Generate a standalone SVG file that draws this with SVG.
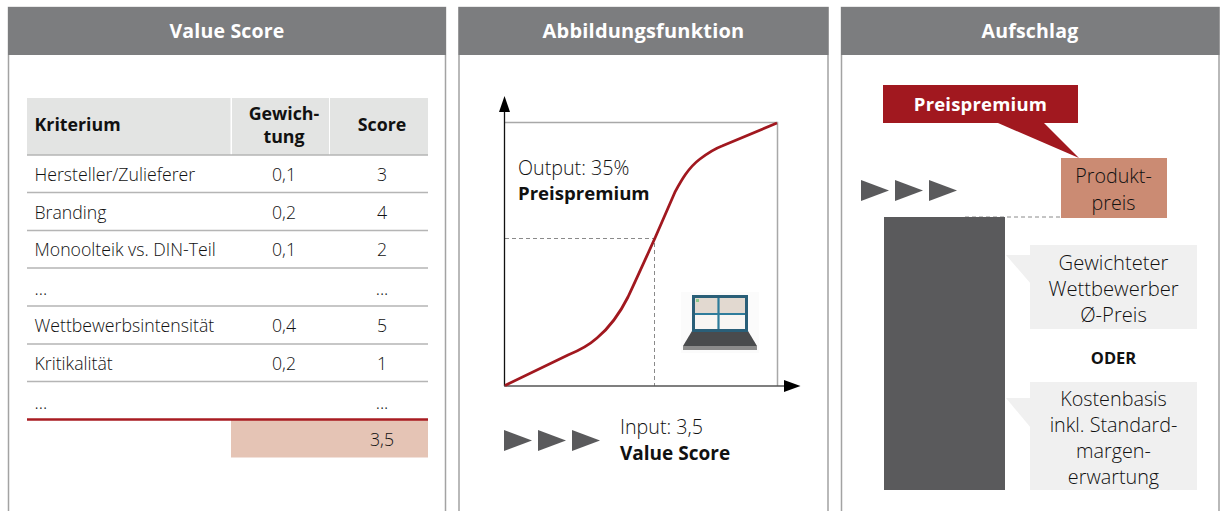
<svg xmlns="http://www.w3.org/2000/svg" width="1221" height="511" viewBox="0 0 1221 511">
<style>
text{font-family:"Open Sans","Noto Sans","Liberation Sans",sans-serif;fill:#111;font-size:17.700px;font-weight:300}
.m{text-anchor:middle}
.b{font-weight:700;fill:#111;font-size:17.800px}
.big{font-size:19.700px;font-weight:300}
.cal{font-size:20.200px;font-weight:300}
.cal2{font-size:19.800px;font-weight:300}
.bigb{font-size:19px;font-weight:700;fill:#111}
.h{font-weight:700;fill:#fff;font-size:19.500px;text-anchor:middle;letter-spacing:.2px}
.panel{fill:#fff;stroke:#a3a3a3;stroke-width:1.5}
.head{fill:#7c7d7f}
.rule{stroke:#b5b5b5;stroke-width:1.4}
.tri{fill:#5a5a5c}
.callout{fill:#f0f0f0}
.dash{stroke:#8a8a8a;stroke-width:1;stroke-dasharray:4 3;fill:none}
</style>
<defs>
<g id="tris"><polygon class="tri" points="0,0 28,10.500 0,21"/><polygon class="tri" points="34,0 62,10.500 34,21"/><polygon class="tri" points="68,0 96,10.500 68,21"/></g>
<filter id="soft" x="-5%" y="-5%" width="110%" height="110%"><feGaussianBlur stdDeviation="0.500"/></filter>
</defs>
<rect width="1221" height="511" fill="#fff"/>

<g id="panel-value-score">
<path class="panel" d="M8.500 511V7.500H445.500V511"/>
<rect class="head" x="8" y="7" width="438" height="48"/>
<text class="h" x="227" y="37.500">Value Score</text>
<rect x="27" y="98" width="203.500" height="57" fill="#e3e4e3"/>
<rect x="232" y="98" width="97" height="57" fill="#e3e4e3"/>
<rect x="330" y="98" width="98" height="57" fill="#e3e4e3"/>
<rect x="231" y="420" width="197" height="37.500" fill="#e5c4b5"/>
<path class="rule" d="M27 155H428M27 192.500H428M27 230.500H428M27 268H428M27 306H428M27 344H428M27 381.500H428"/>
<path d="M27 419.500H428" stroke="#a81c22" stroke-width="2.600"/>
<text class="b" x="34.500" y="131">Kriterium</text>
<text class="b m" x="284" y="120">Gewich-</text>
<text class="b m" x="284" y="143">tung</text>
<text class="b m" x="382" y="131">Score</text>
<text x="34.500" y="181">Hersteller/Zulieferer</text><text class="m" x="284" y="181">0,1</text><text class="m" x="382" y="181">3</text>
<text x="34.500" y="219">Branding</text><text class="m" x="284" y="219">0,2</text><text class="m" x="382" y="219">4</text>
<text x="34.500" y="256">Monoolteik vs. DIN-Teil</text><text class="m" x="284" y="256">0,1</text><text class="m" x="382" y="256">2</text>
<text x="34.500" y="295">...</text><text class="m" x="382" y="295">...</text>
<text x="34.500" y="332">Wettbewerbsintensität</text><text class="m" x="284" y="332">0,4</text><text class="m" x="382" y="332">5</text>
<text x="34.500" y="370">Kritikalität</text><text class="m" x="284" y="370">0,2</text><text class="m" x="382" y="370">1</text>
<text x="34.500" y="409">...</text><text class="m" x="382" y="409">...</text>
<text class="m" x="382" y="446">3,5</text>
</g>

<g id="panel-abbildungsfunktion">
<path class="panel" d="M459 511V7.500H828V511"/>
<rect class="head" x="458.500" y="7" width="370" height="48"/>
<text class="h" x="643.500" y="37.500" style="font-size:20px">Abbildungsfunktion</text>
<path d="M504.500 122.500H777.500V386" fill="none" stroke="#a8a8a8" stroke-width="1.500"/>
<path class="dash" d="M505 238.500H654.500V386"/>
<text class="big" x="518" y="175">Output: 35%</text>
<text class="bigb" x="518" y="200" style="font-size:18.600px">Preispremium</text>
<g id="laptop">
<rect x="681" y="292" width="78" height="61" fill="#fbfbfb"/>
<g filter="url(#soft)">
<polygon points="692,331 748,331 757,346 757,350 683,350 683,346" fill="#4a4b4e"/>
<rect x="683" y="346" width="74" height="4" fill="#8b8b8b"/>
<rect x="692" y="295" width="56" height="37" fill="#2a5f78"/>
<rect x="695" y="298" width="50" height="31" fill="#f8f6f3"/>
<rect x="695" y="298" width="50" height="16" fill="#e2d9d0"/>
<path d="M695 314H745M718.500 298V329" stroke="#2d7c9b" stroke-width="2.200"/>
<rect x="696" y="299" width="3" height="3" fill="#8cc98c"/>
</g>
</g>
<use href="#tris" x="504" y="430"/>
<text class="big" x="620" y="434">Input: 3,5</text>
<text class="bigb" x="620" y="459.500">Value Score</text>
</g>

<g id="panel-aufschlag">
<path class="panel" d="M841.500 511V7.500H1219V511"/>
<rect class="head" x="841" y="7" width="378.500" height="48"/>
<text class="h" x="1030" y="37.500">Aufschlag</text>
<g id="preispremium">
<polygon points="998,123 1044,123 1079,158" fill="#a1181f"/>
<rect x="883" y="85" width="195" height="38" fill="#a1181f"/>
<text class="h" x="980.500" y="111" style="font-size:18.500px">Preispremium</text>
</g>
<use href="#tris" x="861" y="180"/>
<path class="dash" d="M965 217H1062"/>
<g id="produktpreis">
<rect x="1061" y="158" width="106" height="60" fill="#cb8b73"/>
<text class="m big" x="1113.500" y="183">Produkt-</text>
<text class="m big" x="1113.500" y="210">preis</text>
</g>
<rect id="kostenbalken" x="884" y="217" width="121" height="273" fill="#5a5a5c"/>
<g id="wettbewerber">
<polygon class="callout" points="1006,255 1031,255 1031,284" />
<rect class="callout" x="1030" y="245" width="167" height="84"/>
<text class="m cal" x="1113.500" y="270">Gewichteter</text>
<text class="m cal" x="1113.500" y="296">Wettbewerber</text>
<text class="m cal" x="1113.500" y="322">Ø-Preis</text>
</g>
<text class="b m" x="1113.500" y="364" style="font-size:16.500px">ODER</text>
<g id="kostenbasis">
<polygon class="callout" points="1006,398 1031,398 1031,428"/>
<rect class="callout" x="1030" y="382" width="167" height="108"/>
<text class="m cal2" x="1113.500" y="406">Kostenbasis</text>
<text class="m cal2" x="1113.500" y="432">inkl. Standard-</text>
<text class="m cal2" x="1113.500" y="457.500">margen-</text>
<text class="m cal2" x="1113.500" y="484">erwartung</text>
</g>
</g>

<g id="connectors">
<path d="M504.500 386V108" stroke="#111" stroke-width="1.300" fill="none"/>
<polygon points="504.500,96 510,112 499,112" fill="#000"/>
<path d="M504 386H786" stroke="#555" stroke-width="1.500" fill="none"/>
<polygon points="800.500,386 784,380 784,392" fill="#000"/>
<path d="M505 385.500L568 355C578 351 588 346 597 338C609 328 620 313 628 297C636 280 645 260 655 238L675 192C681 181 688 168 700 159C708 153 714 149 722 146L777 123" fill="none" stroke="#a1181f" stroke-width="2.800"/>
</g>
</svg>
